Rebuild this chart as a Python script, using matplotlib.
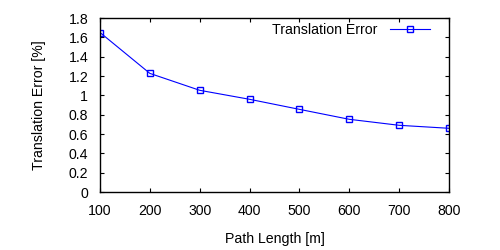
import matplotlib
matplotlib.use("Agg")
import matplotlib.pyplot as plt

path_length = [100, 200, 300, 400, 500, 600, 700, 800]
trans_error = [1.65, 1.227, 1.052, 0.959, 0.855, 0.752, 0.69, 0.659]
xticks = [100, 200, 300, 400, 500, 600, 700, 800]
yticks = [0, 0.2, 0.4, 0.6, 0.8, 1.0, 1.2, 1.4, 1.6, 1.8]
ytick_labels = ["0", "0.2", "0.4", "0.6", "0.8", "1", "1.2", "1.4", "1.6", "1.8"]

plt.rcParams['font.family'] = ['Liberation Sans', 'DejaVu Sans']
plt.rcParams['font.size'] = 10.2

fig = plt.figure(figsize=(5, 2.5), dpi=100)
ax = fig.add_axes([100/500, 1 - 192/250, 349/500, 174/250])
ax.plot(path_length, trans_error, color='#0000ff', lw=0.8, marker='s',
        markersize=5, markerfacecolor='none', markeredgecolor='#0000ff',
        markeredgewidth=1.0, label='Translation Error')
ax.set_xlim(100, 800)
ax.set_ylim(0, 1.8)
ax.set_xticks(xticks)
ax.set_yticks(yticks)
ax.set_yticklabels(ytick_labels)
ax.tick_params(direction='in', top=True, right=True, length=3, width=0.8)
ax.tick_params(axis='x', pad=8.5)
ax.tick_params(axis='y', pad=8.5)
for s in ax.spines.values():
    s.set_linewidth(1.0)
ax.set_xlabel('Path Length [m]', labelpad=10)
ax.set_ylabel('Translation Error [%]', labelpad=16)
leg = ax.legend(loc='upper right', bbox_to_anchor=(0.953, 0.99),
                frameon=False, markerfirst=False, borderaxespad=0,
                handlelength=2.8, handletextpad=0.9, borderpad=0.2)
fig.savefig('out.png', dpi=100)
